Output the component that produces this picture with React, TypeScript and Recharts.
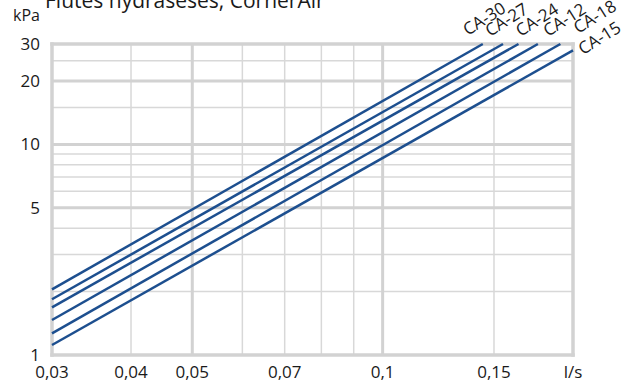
import React from 'react';
import { LineChart, Line, XAxis, YAxis, ReferenceLine } from 'recharts';

// Flow (l/s) and pressure drop (kPa)
const seriesNames = ['CA-30', 'CA-27', 'CA-24', 'CA-12', 'CA-18', 'CA-15'];
const ca30 = [{ q: 0.03, p: 2.05 }, { q: 0.144, p: 30 }];
const ca27 = [{ q: 0.03, p: 1.84 }, { q: 0.155, p: 30 }];
const ca24 = [{ q: 0.03, p: 1.685 }, { q: 0.164, p: 30 }];
const ca12 = [{ q: 0.03, p: 1.466 }, { q: 0.176, p: 30 }];
const ca18 = [{ q: 0.03, p: 1.268 }, { q: 0.191, p: 30 }];
const ca15 = [{ q: 0.03, p: 1.116 }, { q: 0.2, p: 28 }];
const seriesData = [ca30, ca27, ca24, ca12, ca18, ca15];

const xTicks = [0.03, 0.04, 0.05, 0.07, 0.1, 0.15, 0.2];
const yTicks = [1, 5, 10, 20, 30];
const xMajorGrid = [0.05, 0.1];
const xMinorGrid = [0.04, 0.06, 0.07, 0.08, 0.09, 0.15];
const yMajorGrid = [5, 10, 20];
const yMinorGrid = [2, 3, 4, 6, 7, 8, 9, 15, 25];
const xDomain = [0.03, 0.2];
const yDomain = [1, 30];

// label offsets (styling) relative to each line's end
const labelOffsets = [
  [-15, -8],
  [-13, -7],
  [2, -7],
  [10, -7],
  [18, -10],
  [10, 5],
];

const LINE_COLOR = '#1d4f8f';
const GRID_MAJOR = '#d2d2d2';
const GRID_MINOR = '#d8d8d8';
const FONT = '"Open Sans", sans-serif';

const fmtX = (v: number) => (v === 0.2 ? 'l/s' : String(v).replace('.', ','));

const makeLabel = (name: string, idx: number, last: number) => (props: any) => {
  const { x, y, index } = props;
  if (index !== last) return null;
  const [dx, dy] = labelOffsets[idx];
  const px = x + dx;
  const py = y + dy;
  return (
    <text
      x={px}
      y={py}
      fontSize={17}
      fontFamily={FONT}
      fill="#1a1a1a"
      textAnchor="start"
      transform={`rotate(-32 ${px} ${py})`}
    >
      {name}
    </text>
  );
};

export default function App() {
  return (
    <div style={{ position: 'absolute', left: 0, top: 0, width: 632, height: 385, background: '#fff' }}>
      <LineChart
        width={632}
        height={385}
        margin={{ top: 44, right: 59, left: 12, bottom: 0 }}
        style={{ fontFamily: FONT }}
      >
        <text x={45} y={8} fontSize={21} fontFamily={FONT} fill="#1a1a1a">
          Flutes hydraseses, CornerAir
        </text>
        <text x={13} y={21} fontSize={16} fontFamily={FONT} fill="#1a1a1a">
          kPa
        </text>
        <XAxis
          type="number"
          dataKey="q"
          scale="log"
          domain={xDomain}
          ticks={xTicks}
          interval={0}
          tickFormatter={fmtX}
          axisLine={false}
          tickLine={false}
          tickSize={0}
          tickMargin={11}
          height={30}
          tick={{ fontSize: 17, fill: '#1a1a1a', fontFamily: FONT }}
        />
        <YAxis
          type="number"
          dataKey="p"
          scale="log"
          domain={yDomain}
          ticks={yTicks}
          interval={0}
          axisLine={false}
          tickLine={false}
          tickSize={0}
          tickMargin={12}
          width={40}
          tick={{ fontSize: 17, fill: '#1a1a1a', fontFamily: FONT }}
        />
        {xMinorGrid.map((v) => (
          <ReferenceLine key={'xm' + v} x={v} stroke={GRID_MINOR} strokeWidth={1.5} />
        ))}
        {yMinorGrid.map((v) => (
          <ReferenceLine key={'ym' + v} y={v} stroke={GRID_MINOR} strokeWidth={1.5} />
        ))}
        {xMajorGrid.map((v) => (
          <ReferenceLine key={'xM' + v} x={v} stroke={GRID_MAJOR} strokeWidth={3} />
        ))}
        {yMajorGrid.map((v) => (
          <ReferenceLine key={'yM' + v} y={v} stroke={GRID_MAJOR} strokeWidth={3} />
        ))}
        {xDomain.map((v) => (
          <ReferenceLine key={'xb' + v} x={v} stroke={GRID_MAJOR} strokeWidth={3.5} strokeLinecap="square" />
        ))}
        {yDomain.map((v) => (
          <ReferenceLine key={'yb' + v} y={v} stroke={GRID_MAJOR} strokeWidth={3.5} strokeLinecap="square" />
        ))}
        {seriesNames.map((name, i) => (
          <Line
            key={name}
            data={seriesData[i]}
            dataKey="p"
            type="linear"
            stroke={LINE_COLOR}
            strokeWidth={2.5}
            dot={false}
            activeDot={false}
            isAnimationActive={false}
            label={makeLabel(name, i, seriesData[i].length - 1)}
          />
        ))}
      </LineChart>
    </div>
  );
}
